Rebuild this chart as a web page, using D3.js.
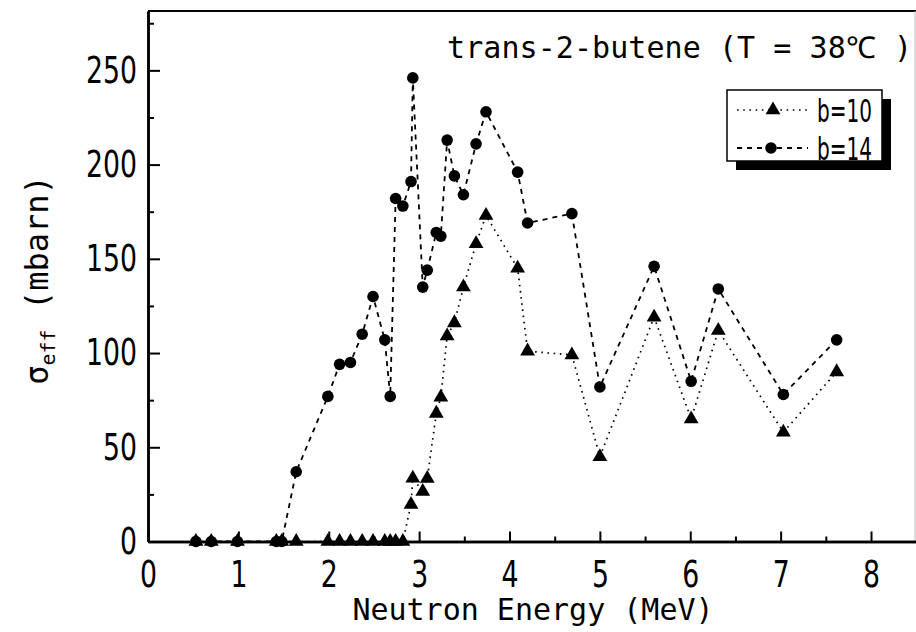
<!DOCTYPE html>
<html><head><meta charset="utf-8">
<script src="https://cdn.jsdelivr.net/npm/d3@7"></script>
<style>body{margin:0;background:#fff} svg{display:block}</style>
</head><body>
<svg id="c" width="916" height="632"></svg>
<script>
// ---- data ----
const energy = [0.53, 0.70, 0.99, 1.42, 1.48, 1.64, 1.99, 2.12, 2.24, 2.37, 2.49, 2.62, 2.68, 2.74, 2.82,
                2.91, 2.93, 3.04, 3.09, 3.19, 3.24, 3.31, 3.39, 3.49, 3.63, 3.74, 4.09, 4.20, 4.69, 5.00,
                5.60, 6.01, 6.31, 7.03, 7.62];
const b10 = [0, 0, 0, 0, 0, 0, 0, 0, 0, 0, 0, 0, 0, 0, 0,
             19.6, 33.6, 26.5, 33.4, 68, 76.5, 109, 116, 135, 158, 173, 145, 101, 99, 45,
             119, 65, 112, 58, 90];
const b14 = [0, 0, 0, 0, 0, 37, 77, 94, 95, 110, 130, 107, 77, 182, 178,
             191, 246, 135, 144, 164, 162, 213, 194, 184, 211, 228, 196, 169, 174, 82,
             146, 85, 134, 78, 107];
const seriesNames = ["b=10", "b=14"];
const xTicks = [0, 1, 2, 3, 4, 5, 6, 7, 8];
const xMinorTicks = [0.5, 1.5, 2.5, 3.5, 4.5, 5.5, 6.5, 7.5];
const yTicks = [0, 50, 100, 150, 200, 250];
const yMinorTicks = [25, 75, 125, 175, 225, 275];
const titleText = "trans-2-butene (T = 38℃ )";
const xLabel = "Neutron Energy (MeV)";
const yLabelMain = "σ", yLabelSub = "eff", yLabelUnit = " (mbarn)";

// ---- chart ----
const svg = d3.select("#c");
const x = d3.scaleLinear().domain([0, 8.5]).range([148, 916.2]);
const y = d3.scaleLinear().domain([0, 281.5]).range([541.5, 11]);
const numFont = "'Liberation Sans Narrow', 'DejaVu Sans Condensed', 'Arial Narrow', sans-serif";
const monoFont = "'DejaVu Sans Mono', 'Liberation Mono', monospace";
const digitW = 17;

// frame top & right
svg.append("line").attr("x1", x(0)).attr("x2", 916).attr("y1", y.range()[1]).attr("y2", y.range()[1])
  .attr("stroke", "#000").attr("stroke-width", 2);
svg.append("line").attr("x1", 915).attr("x2", 915).attr("y1", y.range()[1]).attr("y2", y(0))
  .attr("stroke", "#bbb").attr("stroke-width", 1);

// axes
const gx = svg.append("g").attr("transform", `translate(0,${y(0)})`)
  .call(d3.axisBottom(x).tickValues(xTicks).tickSize(-10).tickSizeOuter(0).tickPadding(19).tickFormat(d3.format("d")));
const gxm = svg.append("g").attr("transform", `translate(0,${y(0)})`)
  .call(d3.axisBottom(x).tickValues(xMinorTicks).tickSize(-5).tickSizeOuter(0).tickFormat(""));
const gy = svg.append("g").attr("transform", `translate(${x(0)},0)`)
  .call(d3.axisLeft(y).tickValues(yTicks).tickSize(-12).tickSizeOuter(0).tickPadding(11).tickFormat(d3.format("d")));
const gym = svg.append("g").attr("transform", `translate(${x(0)},0)`)
  .call(d3.axisLeft(y).tickValues(yMinorTicks).tickSize(-6).tickSizeOuter(0).tickFormat(""));
[gx, gy, gxm, gym].forEach(g => {
  g.selectAll(".domain").attr("stroke", "#000").attr("stroke-width", 2.5);
  g.selectAll(".tick line").attr("stroke", "#000").attr("stroke-width", 2);
  g.selectAll("text").attr("font-family", numFont).attr("font-size", 37).attr("fill", "#000")
    .attr("textLength", d => String(d).length * digitW).attr("lengthAdjust", "spacingAndGlyphs");
});

// lines
const line = vals => d3.line().x((d, i) => x(energy[i])).y(d => y(d))(vals);
svg.append("path").attr("d", line(b10)).attr("fill", "none").attr("stroke", "#000")
  .attr("stroke-width", 1.7).attr("stroke-dasharray", "1.6 4.6");
svg.append("path").attr("d", line(b14)).attr("fill", "none").attr("stroke", "#000")
  .attr("stroke-width", 1.8).attr("stroke-dasharray", "5 5");

// markers
const tri = d3.symbol(d3.symbolTriangle, 95);
svg.append("g").selectAll("path").data(b10).join("path")
  .attr("d", tri).attr("transform", (d, i) => `translate(${x(energy[i])},${y(d)})`).attr("fill", "#000");
svg.append("g").selectAll("circle").data(b14).join("circle")
  .attr("cx", (d, i) => x(energy[i])).attr("cy", d => y(d)).attr("r", 5.8).attr("fill", "#000");

// title
svg.append("text").attr("x", 447).attr("y", 58).attr("font-family", monoFont).attr("font-size", 30)
  .attr("fill", "#000").style("white-space", "pre")
  .attr("textLength", 465).attr("lengthAdjust", "spacing").text(titleText);

// axis labels
svg.append("text").attr("x", 533).attr("y", 620).attr("text-anchor", "middle")
  .attr("font-family", monoFont).attr("font-size", 30).attr("fill", "#000").text(xLabel);
const yl = svg.append("text").attr("transform", "translate(48,280) rotate(-90)").attr("text-anchor", "middle")
  .attr("font-family", monoFont).attr("font-size", 32).attr("fill", "#000").style("white-space", "pre");
yl.append("tspan").text(yLabelMain);
yl.append("tspan").attr("font-size", 20).attr("dy", 7).text(yLabelSub);
yl.append("tspan").attr("dy", -7).text(yLabelUnit);

// legend
const lg = svg.append("g");
lg.append("rect").attr("x", 736).attr("y", 99).attr("width", 155).attr("height", 71).attr("fill", "#000");
lg.append("rect").attr("x", 727).attr("y", 90).attr("width", 155).attr("height", 71)
  .attr("fill", "#fff").attr("stroke", "#000").attr("stroke-width", 1.5);
const legY = [110, 148];
lg.append("line").attr("x1", 737).attr("x2", 808).attr("y1", legY[0]).attr("y2", legY[0])
  .attr("stroke", "#000").attr("stroke-width", 1.7).attr("stroke-dasharray", "1.6 4.6");
lg.append("path").attr("d", tri).attr("transform", `translate(773,${legY[0]})`).attr("fill", "#000");
lg.append("line").attr("x1", 737).attr("x2", 808).attr("y1", legY[1]).attr("y2", legY[1])
  .attr("stroke", "#000").attr("stroke-width", 1.8).attr("stroke-dasharray", "5 5");
lg.append("circle").attr("cx", 771).attr("cy", legY[1]).attr("r", 5.8).attr("fill", "#000");
seriesNames.forEach((n, i) => {
  lg.append("text").attr("x", 817).attr("y", legY[i] + 12).attr("font-family", numFont)
    .attr("font-size", 32).attr("fill", "#000")
    .attr("textLength", 55).attr("lengthAdjust", "spacingAndGlyphs").text(n);
});
</script>
</body></html>
